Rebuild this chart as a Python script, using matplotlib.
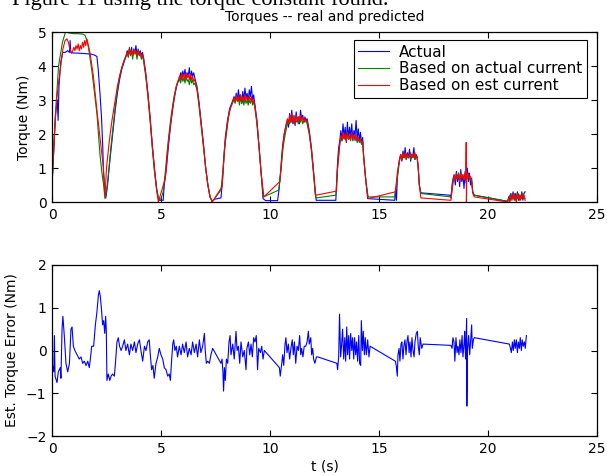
import numpy as np
import matplotlib
matplotlib.use('Agg')
import matplotlib.pyplot as plt

plt.rcParams['font.family'] = ['DejaVu Sans']
plt.rcParams['font.size'] = 10

# Measured torque (t, Nm)
actual = [
    (0.0, 0.5), (0.08, 1.5), (0.16, 2.6), (0.24, 3.0), (0.28, 2.4), (0.32, 3.4), (0.4, 4.1), (0.49, 4.4),
    (0.6, 4.4), (0.72, 4.45), (0.8, 4.4), (0.83, 4.75), (0.86, 4.4), (1.0, 4.38), (1.2, 4.38), (1.4, 4.37),
    (1.6, 4.36), (1.8, 4.35), (1.95, 4.32), (2.06, 4.28), (2.12, 3.9), (2.2, 3.2), (2.27, 2.5), (2.33, 1.6),
    (2.36, 0.9), (2.42, 0.4), (2.47, 0.12),
    (2.55, 0.5), (2.62, 1.0), (2.7, 1.5), (2.8, 2.1), (2.9, 2.7), (3.0, 3.2), (3.1, 3.6), (3.2, 3.9),
    (3.3, 4.1), (3.4, 4.3), (3.45, 4.45), (3.5, 4.3), (3.55, 4.5), (3.6, 4.35), (3.65, 4.55), (3.7, 4.3),
    (3.75, 4.45), (3.8, 4.4), (3.85, 4.6), (3.9, 4.3), (3.95, 4.5), (4.0, 4.35), (4.05, 4.45), (4.1, 4.3),
    (4.15, 4.4), (4.2, 4.25), (4.3, 3.8), (4.4, 3.2), (4.5, 2.5), (4.6, 1.7), (4.7, 1.0), (4.8, 0.4),
    (4.9, 0.05), (5.1, 0.05),
    (5.15, 0.5), (5.25, 1.0), (5.35, 1.7), (5.45, 2.3), (5.55, 2.8), (5.65, 3.2), (5.75, 3.5), (5.85, 3.65),
    (5.9, 3.8), (5.95, 3.6), (6.0, 3.85), (6.05, 3.7), (6.1, 3.9), (6.15, 3.65), (6.2, 3.8), (6.25, 3.7),
    (6.3, 3.95), (6.35, 3.6), (6.4, 3.85), (6.45, 3.7), (6.5, 3.8), (6.55, 3.65), (6.65, 3.4), (6.75, 2.9),
    (6.85, 2.3), (6.95, 1.7), (7.05, 1.0), (7.15, 0.5), (7.25, 0.15), (7.35, 0.02), (7.45, 0.08), (7.75, 0.12),
    (7.82, 0.6), (7.88, 1.3), (7.95, 1.9), (8.05, 2.4), (8.15, 2.75), (8.3, 3.0), (8.35, 3.1), (8.4, 2.95),
    (8.45, 3.2), (8.5, 3.0), (8.55, 3.3), (8.6, 3.05), (8.65, 3.15), (8.7, 2.9), (8.75, 3.25), (8.8, 3.0),
    (8.85, 3.35), (8.9, 3.05), (8.95, 3.2), (9.0, 2.95), (9.05, 3.3), (9.1, 3.1), (9.15, 3.4), (9.2, 3.0),
    (9.25, 3.15), (9.3, 2.9), (9.4, 2.4), (9.5, 1.6), (9.6, 0.8), (9.68, 0.1), (9.8, 0.04), (10.35, 0.04),
    (10.42, 0.4), (10.5, 1.0), (10.57, 1.6), (10.65, 2.0), (10.75, 2.3), (10.8, 2.4), (10.85, 2.2), (10.9, 2.6),
    (10.95, 2.35), (11.0, 2.7), (11.05, 2.3), (11.1, 2.55), (11.15, 2.25), (11.2, 2.65), (11.25, 2.4),
    (11.3, 2.5), (11.35, 2.3), (11.4, 2.7), (11.45, 2.45), (11.5, 2.55), (11.55, 2.35), (11.6, 2.5),
    (11.65, 2.4), (11.7, 2.45), (11.8, 2.1), (11.9, 1.6), (12.0, 0.9), (12.07, 0.3), (12.12, 0.05), (13.02, 0.05),
    (13.06, 0.6), (13.1, 1.2), (13.15, 1.6), (13.2, 1.8), (13.25, 2.1), (13.3, 1.8), (13.35, 2.3), (13.4, 1.9),
    (13.45, 2.2), (13.5, 1.75), (13.55, 2.35), (13.6, 1.85), (13.65, 2.2), (13.7, 1.9), (13.75, 2.3), (13.8, 1.8),
    (13.85, 2.1), (13.9, 1.95), (13.95, 2.4), (14.0, 1.85), (14.05, 2.15), (14.1, 1.8), (14.15, 2.05), (14.2, 1.7),
    (14.25, 1.9), (14.3, 1.3), (14.4, 0.6), (14.48, 0.1), (15.0, 0.08), (15.72, 0.05),
    (15.76, 0.4), (15.8, 0.05), (15.85, 0.8), (15.9, 1.1), (15.95, 1.3), (16.0, 1.4), (16.05, 1.2), (16.1, 1.5),
    (16.15, 1.3), (16.2, 1.6), (16.25, 1.25), (16.3, 1.45), (16.35, 1.3), (16.4, 1.55), (16.45, 1.2), (16.5, 1.4),
    (16.55, 1.35), (16.6, 1.6), (16.65, 1.25), (16.7, 1.4), (16.75, 1.3), (16.8, 1.0), (16.85, 0.5), (16.92, 0.27),
    (18.25, 0.2), (18.3, 0.12),
    (18.35, 0.5), (18.4, 0.7), (18.45, 0.8), (18.5, 0.5), (18.55, 0.9), (18.6, 0.6), (18.65, 0.85), (18.7, 0.45),
    (18.75, 0.95), (18.8, 0.6), (18.85, 0.8), (18.9, 0.4), (18.95, 0.9), (19.0, 0.55), (19.05, 1.0), (19.1, 0.6),
    (19.15, 0.85), (19.2, 0.5), (19.25, 0.7), (19.3, 0.3), (19.37, 0.2), (20.9, 0.02),
    (20.95, 0.15), (21.0, 0.05), (21.05, 0.25), (21.1, 0.1), (21.15, 0.3), (21.2, 0.05), (21.25, 0.25), (21.3, 0.1),
    (21.35, 0.3), (21.4, 0.05), (21.45, 0.2), (21.5, 0.1), (21.55, 0.3), (21.6, 0.05), (21.65, 0.25), (21.7, 0.3),
]

# Predicted from actual current
from_actual = [
    (0.0, 0.45), (0.1, 1.8), (0.2, 3.0), (0.3, 4.0), (0.4, 4.4), (0.48, 4.7), (0.55, 4.85), (0.62, 5.0),
    (0.8, 4.97), (1.0, 4.95), (1.2, 4.95), (1.4, 4.94), (1.52, 4.9), (1.6, 4.75), (1.67, 4.55), (1.75, 4.2),
    (1.83, 3.85), (1.95, 3.2), (2.06, 2.6), (2.2, 1.4), (2.3, 0.8), (2.36, 0.55), (2.43, 0.1),
    (2.5, 0.3), (2.6, 0.9), (2.7, 1.6), (2.8, 2.2), (2.9, 2.8), (3.0, 3.3), (3.1, 3.7), (3.2, 3.95),
    (3.3, 4.15), (3.4, 4.3), (3.45, 4.4), (3.5, 4.25), (3.55, 4.55), (3.6, 4.3), (3.65, 4.45), (3.7, 4.2),
    (3.75, 4.5), (3.8, 4.35), (3.85, 4.4), (3.9, 4.2), (3.95, 4.45), (4.0, 4.3), (4.05, 4.35), (4.1, 4.2),
    (4.15, 4.3), (4.2, 4.15), (4.3, 3.7), (4.4, 3.1), (4.5, 2.4), (4.6, 1.6), (4.7, 0.9), (4.8, 0.35), (4.9, 0.05),
    (5.0, 0.1), (5.1, 0.3), (5.2, 0.9), (5.3, 1.6), (5.4, 2.2), (5.5, 2.7), (5.6, 3.1), (5.7, 3.4), (5.8, 3.55),
    (5.85, 3.6), (5.9, 3.5), (5.95, 3.7), (6.0, 3.55), (6.05, 3.65), (6.1, 3.5), (6.15, 3.7), (6.2, 3.55),
    (6.25, 3.6), (6.3, 3.45), (6.35, 3.65), (6.4, 3.5), (6.45, 3.6), (6.5, 3.45), (6.55, 3.5), (6.65, 3.3),
    (6.75, 2.8), (6.85, 2.2), (6.95, 1.6), (7.05, 1.0), (7.15, 0.5), (7.25, 0.15), (7.35, 0.02), (7.4, 0.05),
    (7.75, 0.35),
    (7.85, 1.0), (7.92, 1.6), (8.0, 2.0), (8.1, 2.5), (8.2, 2.8), (8.3, 2.95), (8.35, 3.0), (8.4, 2.9),
    (8.45, 3.1), (8.5, 2.95), (8.55, 3.05), (8.6, 2.85), (8.65, 3.1), (8.7, 2.9), (8.75, 3.0), (8.8, 2.85),
    (8.85, 3.05), (8.9, 2.9), (8.95, 3.0), (9.0, 2.85), (9.05, 3.0), (9.1, 2.9), (9.15, 3.05), (9.2, 2.85),
    (9.25, 2.95), (9.3, 2.8), (9.4, 2.3), (9.5, 1.6), (9.6, 0.8), (9.7, 0.15), (10.4, 0.35),
    (10.5, 0.9), (10.6, 1.6), (10.7, 2.0), (10.8, 2.3), (10.85, 2.4), (10.9, 2.3), (10.95, 2.5), (11.0, 2.35),
    (11.05, 2.45), (11.1, 2.3), (11.15, 2.5), (11.2, 2.35), (11.25, 2.4), (11.3, 2.3), (11.35, 2.5), (11.4, 2.35),
    (11.45, 2.45), (11.5, 2.3), (11.55, 2.4), (11.6, 2.35), (11.65, 2.4), (11.7, 2.3), (11.8, 2.0), (11.9, 1.5),
    (12.0, 0.8), (12.08, 0.2), (12.12, 0.12), (13.02, 0.2),
    (13.1, 1.0), (13.2, 1.7), (13.25, 1.9), (13.3, 1.8), (13.35, 2.0), (13.4, 1.85), (13.45, 1.95), (13.5, 1.8),
    (13.55, 2.0), (13.6, 1.85), (13.65, 1.9), (13.7, 1.8), (13.75, 2.0), (13.8, 1.85), (13.85, 1.95), (13.9, 1.8),
    (13.95, 1.9), (14.0, 1.75), (14.05, 1.85), (14.1, 1.75), (14.15, 1.8), (14.2, 1.7), (14.25, 1.75),
    (14.3, 1.3), (14.4, 0.6), (14.5, 0.15), (15.72, 0.15),
    (15.8, 0.5), (15.9, 1.0), (15.95, 1.25), (16.0, 1.35), (16.05, 1.25), (16.1, 1.4), (16.15, 1.3), (16.2, 1.4),
    (16.25, 1.25), (16.3, 1.35), (16.35, 1.3), (16.4, 1.4), (16.45, 1.25), (16.5, 1.35), (16.55, 1.3),
    (16.6, 1.4), (16.65, 1.25), (16.7, 1.35), (16.75, 1.3), (16.8, 1.0), (16.85, 0.5), (16.92, 0.25), (18.3, 0.15),
    (18.4, 0.6), (18.45, 0.75), (18.5, 0.65), (18.55, 0.8), (18.6, 0.7), (18.65, 0.85), (18.7, 0.65), (18.75, 0.8),
    (18.8, 0.7), (18.85, 0.75), (18.9, 0.65), (18.95, 0.8), (19.0, 0.7), (19.05, 0.85), (19.1, 0.7), (19.15, 0.75),
    (19.2, 0.65), (19.25, 0.6), (19.3, 0.3), (19.37, 0.2), (20.9, 0.02),
    (20.95, 0.1), (21.0, 0.2), (21.05, 0.05), (21.1, 0.2), (21.15, 0.1), (21.2, 0.25), (21.25, 0.05), (21.3, 0.2),
    (21.35, 0.1), (21.4, 0.25), (21.45, 0.05), (21.5, 0.2), (21.55, 0.1), (21.6, 0.25), (21.65, 0.15), (21.7, 0.1),
]

# Predicted from estimated current
from_est = [
    (0.0, 0.5), (0.1, 1.9), (0.2, 2.9), (0.3, 3.5), (0.4, 4.0), (0.5, 4.5), (0.6, 4.75), (0.68, 4.8),
    (0.75, 4.7), (0.82, 4.5), (0.9, 4.37), (0.95, 4.45), (1.0, 4.55), (1.05, 4.45), (1.1, 4.6), (1.15, 4.5),
    (1.2, 4.65), (1.25, 4.45), (1.3, 4.6), (1.35, 4.5), (1.4, 4.7), (1.45, 4.55), (1.5, 4.75), (1.55, 4.6),
    (1.6, 4.8), (1.67, 4.6), (1.74, 4.4), (1.82, 4.05), (1.9, 3.7), (2.06, 2.7), (2.2, 1.9), (2.36, 1.0),
    (2.43, 0.15), (2.5, 1.0),
    (2.63, 1.8), (2.75, 2.4), (2.9, 3.0), (3.0, 3.4), (3.1, 3.7), (3.2, 3.95), (3.3, 4.15), (3.4, 4.3),
    (3.45, 4.4), (3.5, 4.3), (3.55, 4.5), (3.6, 4.35), (3.65, 4.45), (3.7, 4.3), (3.75, 4.5), (3.8, 4.4),
    (3.85, 4.45), (3.9, 4.3), (3.95, 4.45), (4.0, 4.35), (4.05, 4.4), (4.1, 4.25), (4.15, 4.35), (4.2, 4.2),
    (4.3, 3.75), (4.4, 3.15), (4.5, 2.45), (4.6, 1.65), (4.7, 0.95), (4.8, 0.35), (4.88, 0.0),
    (5.2, 0.7), (5.3, 1.5), (5.4, 2.1), (5.5, 2.6), (5.6, 3.05), (5.7, 3.4), (5.8, 3.6), (5.85, 3.7),
    (5.9, 3.6), (5.95, 3.8), (6.0, 3.65), (6.05, 3.75), (6.1, 3.6), (6.15, 3.8), (6.2, 3.65), (6.25, 3.75),
    (6.3, 3.6), (6.35, 3.75), (6.4, 3.6), (6.45, 3.7), (6.5, 3.55), (6.55, 3.6), (6.65, 3.35), (6.75, 2.85),
    (6.85, 2.25), (6.95, 1.65), (7.05, 1.0), (7.15, 0.5), (7.25, 0.15), (7.35, 0.0), (7.8, 0.45),
    (7.88, 1.2), (7.95, 1.8), (8.05, 2.35), (8.15, 2.7), (8.3, 2.95), (8.35, 3.05), (8.4, 2.95), (8.45, 3.15),
    (8.5, 3.0), (8.55, 3.1), (8.6, 2.95), (8.65, 3.15), (8.7, 3.0), (8.75, 3.1), (8.8, 2.95), (8.85, 3.15),
    (8.9, 3.0), (8.95, 3.1), (9.0, 2.95), (9.05, 3.1), (9.1, 3.0), (9.15, 3.1), (9.2, 2.9), (9.25, 3.0),
    (9.3, 2.85), (9.4, 2.35), (9.5, 1.6), (9.6, 0.8), (9.72, 0.15), (10.45, 0.6),
    (10.55, 1.4), (10.65, 2.0), (10.75, 2.3), (10.8, 2.45), (10.85, 2.3), (10.9, 2.55), (10.95, 2.35),
    (11.0, 2.6), (11.05, 2.35), (11.1, 2.5), (11.15, 2.3), (11.2, 2.55), (11.25, 2.4), (11.3, 2.5), (11.35, 2.35),
    (11.4, 2.55), (11.45, 2.4), (11.5, 2.5), (11.55, 2.35), (11.6, 2.45), (11.65, 2.4), (11.7, 2.4),
    (11.8, 2.05), (11.9, 1.55), (12.0, 0.85), (12.1, 0.2), (13.05, 0.32),
    (13.1, 1.0), (13.2, 1.7), (13.25, 1.95), (13.3, 1.85), (13.35, 2.05), (13.4, 1.85), (13.45, 2.0), (13.5, 1.8),
    (13.55, 2.05), (13.6, 1.85), (13.65, 1.95), (13.7, 1.85), (13.75, 2.05), (13.8, 1.85), (13.85, 1.95),
    (13.9, 1.85), (13.95, 2.0), (14.0, 1.8), (14.05, 1.9), (14.1, 1.8), (14.15, 1.85), (14.2, 1.75), (14.25, 1.8),
    (14.3, 1.3), (14.4, 0.6), (14.5, 0.1), (15.75, 0.3),
    (15.85, 0.9), (15.95, 1.25), (16.0, 1.4), (16.05, 1.25), (16.1, 1.45), (16.15, 1.3), (16.2, 1.45),
    (16.25, 1.3), (16.3, 1.4), (16.35, 1.3), (16.45, 1.45), (16.5, 1.3), (16.55, 1.4), (16.6, 1.3), (16.65, 1.45),
    (16.7, 1.3), (16.75, 1.35), (16.8, 1.0), (16.85, 0.5), (16.92, 0.12), (18.3, 0.05),
    (18.4, 0.6), (18.45, 0.8), (18.5, 0.65), (18.55, 0.85), (18.6, 0.7), (18.65, 0.8), (18.7, 0.6), (18.75, 0.85),
    (18.8, 0.7), (18.85, 0.8), (18.9, 0.65), (18.95, 0.85), (18.98, 0.7), (19.0, 1.75), (19.01, 0.0), (19.03, 0.8),
    (19.05, 0.7), (19.1, 0.85), (19.15, 0.7), (19.2, 0.75), (19.25, 0.6), (19.3, 0.25), (19.37, 0.15), (20.9, 0.0),
    (20.95, 0.1), (21.0, 0.0), (21.05, 0.2), (21.1, 0.05), (21.15, 0.25), (21.2, 0.1), (21.25, 0.2), (21.3, 0.0),
    (21.35, 0.25), (21.4, 0.1), (21.45, 0.2), (21.5, 0.05), (21.55, 0.25), (21.6, 0.1), (21.65, 0.2), (21.7, 0.05),
]

# Estimated torque error (t, Nm)
error = [
    (0.0, -0.3), (0.08, -0.5), (0.11, 0.35), (0.14, -0.6), (0.23, -0.75), (0.29, -0.5), (0.38, -0.4),
    (0.41, -0.65), (0.46, 0.5), (0.5, 0.8), (0.57, 0.3), (0.64, -0.3), (0.72, -0.5), (0.8, -0.3), (0.87, 0.5),
    (0.92, 0.55), (0.98, 0.1), (1.05, 0.0), (1.15, -0.1), (1.25, -0.2), (1.33, -0.15), (1.41, -0.3),
    (1.48, -0.25), (1.56, -0.35), (1.64, -0.25), (1.71, -0.4), (1.76, -0.2), (1.82, 0.1), (1.91, 0.1),
    (1.99, 0.6), (2.06, 0.9), (2.13, 1.3), (2.17, 1.4), (2.22, 1.25), (2.28, 0.9), (2.32, 0.6), (2.37, 0.7),
    (2.42, 0.4), (2.46, 0.8), (2.49, 0.5), (2.52, -0.7), (2.58, -0.55), (2.65, -0.7), (2.71, -0.6),
    (2.78, -0.55), (2.86, -0.6), (2.91, -0.3), (2.98, 0.2), (3.04, 0.3), (3.1, 0.1), (3.17, 0.0), (3.24, 0.1),
    (3.32, 0.25), (3.39, 0.0), (3.47, 0.15), (3.55, -0.1), (3.62, 0.15), (3.7, 0.0), (3.78, 0.2), (3.85, -0.05),
    (3.93, 0.15), (4.01, 0.25), (4.08, 0.0), (4.16, -0.25), (4.24, 0.1), (4.31, 0.0), (4.39, 0.2), (4.46, 0.25),
    (4.51, -0.1), (4.57, -0.45), (4.63, -0.35), (4.69, -0.65), (4.77, -0.3), (4.85, -0.15), (4.92, 0.05),
    (5.0, -0.1), (5.08, -0.2), (5.15, -0.4), (5.23, -0.45), (5.31, -0.6), (5.38, -0.55), (5.43, -0.7),
    (5.49, -0.2), (5.54, 0.15), (5.58, 0.25), (5.64, 0.0), (5.7, 0.1), (5.76, -0.15), (5.84, 0.1), (5.92, -0.1),
    (5.99, 0.15), (6.07, -0.05), (6.15, 0.2), (6.22, -0.15), (6.3, 0.05), (6.38, -0.1), (6.45, 0.2),
    (6.53, -0.05), (6.61, 0.15), (6.68, -0.15), (6.76, 0.25), (6.83, -0.05), (6.91, 0.1), (6.99, 0.4),
    (7.03, 0.0), (7.08, -0.3), (7.14, -0.25), (7.22, -0.3), (7.29, -0.1), (7.37, 0.05), (7.75, -0.3),
    (7.8, -0.2), (7.84, -0.5), (7.87, -0.95), (7.91, -0.4), (7.95, -0.7), (8.0, -0.2), (8.06, -0.3), (8.12, 0.2),
    (8.17, 0.35), (8.21, -0.1), (8.29, 0.15), (8.36, -0.2), (8.44, 0.45), (8.49, 0.0), (8.55, 0.1), (8.61, -0.3),
    (8.67, 0.2), (8.75, -0.15), (8.82, 0.0), (8.9, -0.45), (8.94, 0.05), (9.01, 0.2), (9.07, -0.1), (9.13, 0.15),
    (9.19, -0.15), (9.25, 0.3), (9.31, 0.2), (9.37, 0.35), (9.43, -0.45), (9.48, 0.05), (9.56, -0.05),
    (9.62, 0.1), (9.68, -0.2), (9.74, 0.0), (10.43, -0.4), (10.47, -0.6), (10.54, -0.3), (10.58, -0.1),
    (10.63, -0.35), (10.69, 0.15), (10.73, 0.3), (10.78, -0.05), (10.84, 0.15), (10.9, -0.2), (10.96, 0.05),
    (11.02, 0.25), (11.07, -0.1), (11.12, 0.2), (11.18, -0.3), (11.24, 0.1), (11.3, 0.0), (11.36, 0.35),
    (11.41, -0.1), (11.45, 0.05), (11.51, -0.15), (11.57, 0.1), (11.64, 0.1), (11.7, 0.2), (11.76, 0.45),
    (11.8, 0.15), (11.87, 0.3), (11.91, -0.1), (11.96, 0.05), (12.0, -0.2), (12.06, -0.3), (12.13, -0.15),
    (12.19, -0.15), (13.07, -0.3), (13.1, -0.45), (13.15, -0.15), (13.19, 0.85), (13.24, -0.15), (13.28, 0.1),
    (13.33, 0.5), (13.38, -0.2), (13.43, 0.3), (13.47, -0.25), (13.52, 0.55), (13.56, -0.1), (13.61, 0.35),
    (13.65, -0.2), (13.7, 0.4), (13.75, 0.0), (13.79, 0.3), (13.84, -0.2), (13.88, 0.3), (13.93, -0.1),
    (13.97, 0.2), (14.02, -0.25), (14.07, 0.35), (14.11, -0.3), (14.16, -0.35), (14.19, 0.7), (14.24, 0.0),
    (14.28, 0.45), (14.33, -0.1), (14.37, 0.3), (14.42, -0.1), (14.48, 0.25), (14.54, -0.15), (14.59, 0.1),
    (15.75, -0.25), (15.79, -0.35), (15.84, -0.6), (15.87, -0.1), (15.92, 0.05), (15.96, -0.25), (16.01, 0.15),
    (16.05, 0.2), (16.1, -0.2), (16.14, 0.1), (16.19, 0.25), (16.24, -0.1), (16.28, 0.2), (16.33, 0.35),
    (16.38, -0.05), (16.42, 0.2), (16.47, -0.15), (16.51, 0.3), (16.56, 0.0), (16.61, -0.15), (16.65, 0.2),
    (16.71, 0.4), (16.76, 0.45), (16.8, 0.1), (16.85, -0.1), (16.89, 0.3), (16.96, 0.05), (17.02, 0.15),
    (18.3, 0.12), (18.35, 0.05), (18.39, 0.3), (18.44, 0.2), (18.48, -0.25), (18.53, 0.3), (18.58, -0.05),
    (18.62, 0.1), (18.67, -0.1), (18.71, 0.25), (18.76, -0.05), (18.81, 0.35), (18.85, -0.15), (18.9, 0.15),
    (18.93, 0.45), (18.97, -0.2), (19.02, 0.75), (19.03, -1.3), (19.06, 0.0), (19.11, 0.35), (19.16, -0.1),
    (19.2, 0.2), (19.25, 0.6), (19.28, 0.05), (19.33, 0.25), (19.37, 0.3), (20.98, 0.15), (21.03, 0.05),
    (21.07, -0.05), (21.12, 0.2), (21.16, 0.0), (21.21, 0.25), (21.25, 0.05), (21.3, 0.25), (21.35, -0.05),
    (21.39, 0.2), (21.44, 0.05), (21.48, 0.3), (21.53, 0.0), (21.57, 0.25), (21.62, 0.1), (21.67, 0.2),
    (21.71, 0.05), (21.76, 0.35),
]

labels = ['Actual', 'Based on actual current', 'Based on est current']
colors = ['#0000ff', '#008000', '#ff0000']


def matlab_axes(ax):
    ax.tick_params(direction='in', top=True, right=True, length=4, labelsize=10, pad=4)
    for s in ax.spines.values():
        s.set_linewidth(0.9)


fig = plt.figure(figsize=(6.07, 4.75), dpi=100)

# cut-off caption line from the document page
fig.text(12 / 607, 1 - 4.5 / 475, 'Figure 11 using the torque constant found.', family='Liberation Serif',
         fontsize=16, va='baseline', ha='left')

ax1 = fig.add_axes([52 / 607, 1 - 202 / 475, 545 / 607, 170 / 475])
for series, lab, col in zip([actual, from_actual, from_est], labels, colors):
    t, v = np.array(series).T
    ax1.plot(t, v, color=col, lw=0.8, label=lab)
ax1.set_xlim(0, 25)
ax1.set_ylim(0, 5)
ax1.set_xticks(range(0, 26, 5))
ax1.set_yticks(range(0, 6))
ax1.set_ylabel('Torque (Nm)', fontsize=10, labelpad=5)
ax1.set_title('Torques -- real and predicted', fontsize=10, pad=8)
matlab_axes(ax1)
leg = ax1.legend(loc='upper right', bbox_to_anchor=(0.982, 0.953), borderaxespad=0, fancybox=False,
                 edgecolor='black', framealpha=1, fontsize=11, handlelength=2.0, handletextpad=0.7,
                 borderpad=0.3, labelspacing=0.12)
leg.get_frame().set_linewidth(0.8)

ax2 = fig.add_axes([52 / 607, 1 - 436 / 475, 545 / 607, 171 / 475])
t, v = np.array(error).T
ax2.plot(t, v, color='#0000ff', lw=0.8)
ax2.set_xlim(0, 25)
ax2.set_ylim(-2, 2)
ax2.set_xticks(range(0, 26, 5))
ax2.set_yticks(range(-2, 3))
ax2.set_ylabel('Est. Torque Error (Nm)', fontsize=10, labelpad=5)
ax2.set_xlabel('t (s)', fontsize=10, labelpad=3)
matlab_axes(ax2)

fig.savefig('out.png', dpi=100)
